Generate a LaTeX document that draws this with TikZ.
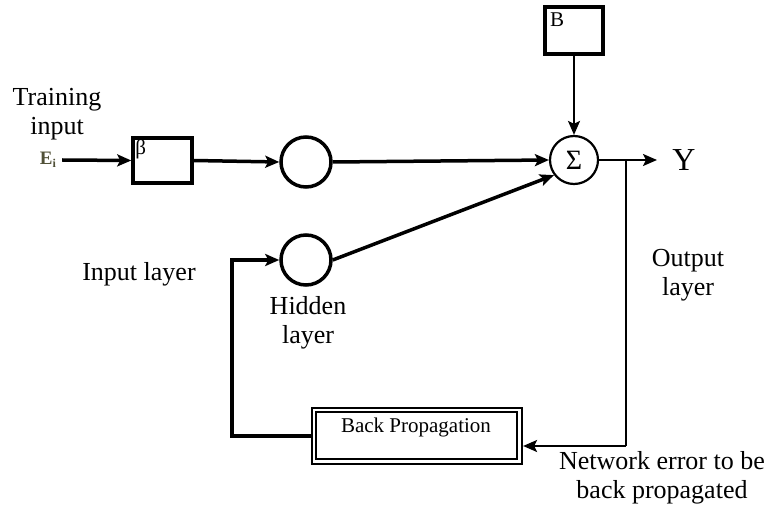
\documentclass[tikz,border=0pt]{standalone}
\usepackage{fontspec}
\setmainfont{Liberation Serif}
\usetikzlibrary{arrows.meta,positioning}
\definecolor{einc}{RGB}{80,80,55}
\begin{document}
\begin{tikzpicture}[x=1pt,y=-1pt,
  lbl/.style={font=\fontsize{26}{29}\selectfont, align=center, inner sep=0pt},
  sqbox/.style={draw, line width=3.5pt, inner sep=0pt},
  neuron/.style={draw, circle, line width=3.5pt, minimum size=50pt, inner sep=0pt},
  sumnode/.style={draw, circle, line width=2.2pt, minimum size=48pt, inner sep=0pt, font=\fontsize{28}{28}\selectfont},
  arr/.style={line width=3.5pt, -{Stealth[length=14pt,width=12pt,inset=3pt]}},
  thinarr/.style={line width=2.2pt, -{Stealth[length=14pt,width=12pt,inset=3pt]}}
]
\useasboundingbox (0,0) rectangle (767,510);
% labels
\node[lbl] (train) at (57,114) {Training\\input};
\node[inner sep=0pt, font=\fontsize{19}{19}\selectfont\bfseries, text=einc] (ein) at (48,160) {E\raisebox{-3pt}{\fontsize{12}{12}\selectfont i}};
\node[lbl] (inl) at (139,274) {Input layer};
\node[lbl] (hidl) at (308,323) {Hidden\\layer};
\node[lbl] (outl) at (688,275) {Output\\layer};
\node[lbl] (netl) at (662,478) {Network error to be\\back propagated};
% boxes
\node[sqbox, minimum width=59pt, minimum height=45pt] (beta) at (162.5,160.5) {};
\node[anchor=north west, inner sep=0pt, font=\fontsize{21}{21}\selectfont] (betat) at ([xshift=4pt,yshift=-3pt]beta.north west) {β};
\node[draw, line width=4pt, inner sep=0pt, minimum width=58pt, minimum height=47pt] (bbox) at (574,30.5) {};
\node[anchor=north west, inner sep=0pt, font=\fontsize{21}{21}\selectfont] (bt) at ([xshift=7pt,yshift=-8pt]bbox.north west) {B};
\node[neuron] (c1) at (306,162) {};
\node[neuron] (c2) at (306,260) {};
\node[sumnode] (sig) at (574,160) {Σ};
\node[inner sep=0pt, font=\fontsize{32}{32}\selectfont] (Y) at (684,160) {Y};
\coordinate (ytip) at (657,160);
\coordinate (br) at (626,160);
% back propagation box
\node[draw, line width=2.2pt, minimum width=210pt, minimum height=56pt, inner sep=0pt] (bp) at (417,436) {};
\draw[line width=2.2pt] ([shift={(5,5)}]bp.north west) rectangle ([shift={(-6,-6)}]bp.south east);
\node[inner sep=0pt, font=\fontsize{21}{21}\selectfont] (bpt) at (416,427) {Back Propagation};
% connectors
\draw[arr] ([xshift=6pt]ein.east) -- (beta.west);
\draw[arr] (beta.east) -- (c1.west);
\draw[arr] (c1.east) -- (sig.west);
\draw[thinarr] (bbox.south) -- (sig.north);
\draw[arr] (c2.east) -- (sig.217);
\draw[thinarr] (sig.east) -- (ytip);
\draw[line width=2.2pt] (br) -- (br |- 0,446);
\draw[thinarr] (br |- 0,446) -- ([yshift=-10pt]bp.east);
\draw[arr] (bp.west) -- ++(-79,0) |- (c2.west);
\end{tikzpicture}
\end{document}
